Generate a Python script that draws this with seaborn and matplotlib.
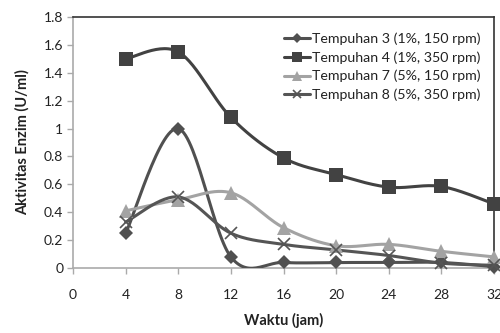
import numpy as np
import pandas as pd
import matplotlib
matplotlib.use("Agg")
import matplotlib.pyplot as plt
from matplotlib.lines import Line2D
import seaborn as sns

waktu = [4, 8, 12, 16, 20, 24, 28, 32]
t3 = [0.25, 1.00, 0.08, 0.04, 0.04, 0.04, 0.04, 0.01]
t4 = [1.50, 1.55, 1.08, 0.79, 0.67, 0.58, 0.585, 0.46]
t7 = [0.41, 0.49, 0.54, 0.29, 0.16, 0.17, 0.12, 0.08]
t8 = [0.33, 0.51, 0.25, 0.17, 0.13, 0.09, 0.035, 0.02]
labels = ["Tempuhan 3 (1%, 150 rpm)", "Tempuhan 4 (1%, 350 rpm)",
          "Tempuhan 7 (5%, 150 rpm)", "Tempuhan 8 (5%, 350 rpm)"]
xticks = [0, 4, 8, 12, 16, 20, 24, 28, 32]
yticks = [0, 0.2, 0.4, 0.6, 0.8, 1.0, 1.2, 1.4, 1.6, 1.8]
ytick_labels = ["0", "0.2", "0.4", "0.6", "0.8", "1", "1.2", "1.4", "1.6", "1.8"]

sns.set_theme(style="white")
plt.rcParams['font.family'] = ['Lato', 'DejaVu Sans']

styles = [
    dict(color="#505050", marker="D", ms=7, mew=0),
    dict(color="#424242", marker="s", ms=9.5, mew=0),
    dict(color="#a3a3a3", marker="^", ms=9.5, mew=0),
    dict(color="#555555", marker="x", ms=8, mew=1.2),
]


def smooth(x, y, n=30):
    # Excel-style smoothed line (Catmull-Rom through the data points)
    x = np.asarray(x, float); y = np.asarray(y, float)
    P = np.column_stack([x, y])
    P = np.vstack([P[0], P, P[-1]])
    out = []
    t = np.linspace(0, 1, n)
    for i in range(1, len(P) - 2):
        p0, p1, p2, p3 = P[i - 1], P[i], P[i + 1], P[i + 2]
        c1 = p1 + (p2 - p0) / 6
        c2 = p2 - (p3 - p1) / 6
        tt = t[:, None]
        seg = ((1 - tt) ** 3) * p1 + 3 * ((1 - tt) ** 2) * tt * c1 + 3 * (1 - tt) * tt ** 2 * c2 + tt ** 3 * p2
        out.append(seg if i == 1 else seg[1:])
    s = np.vstack(out)
    return s[:, 0], s[:, 1]


fig = plt.figure(figsize=(5.0, 3.33), dpi=100)
ax = fig.add_axes([0.146, 0.195, 0.842, 0.754])

handles = []
for ys, st, lab in zip([t3, t4, t7, t8], styles, labels):
    sx, sy = smooth(waktu, ys)
    df = pd.DataFrame({"x": sx, "y": sy})
    sns.lineplot(data=df, x="x", y="y", ax=ax, color=st["color"], lw=2.2,
                 sort=False, estimator=None, zorder=3)
    dfp = pd.DataFrame({"x": waktu, "y": ys})
    ax.plot(dfp["x"], dfp["y"], linestyle="none", marker=st["marker"],
            markersize=st["ms"], color=st["color"], mec=st["color"],
            mew=st["mew"], zorder=4, clip_on=False)
    handles.append(Line2D([], [], color=st["color"], lw=2.2, marker=st["marker"],
                          markersize=st["ms"] * 0.75, mew=st["mew"], mec=st["color"], label=lab))

ax.set_xlim(0, 32)
ax.set_ylim(0, 1.8)
ax.set_xticks(xticks)
ax.set_xticklabels([str(v) for v in xticks])
ax.set_yticks(yticks)
ax.set_yticklabels(ytick_labels)
ax.tick_params(axis="both", labelsize=10, colors="#aaaaaa", labelcolor="#222222",
               direction="out", length=4, width=1, bottom=True, left=True)
ax.tick_params(axis="x", pad=11)
ax.tick_params(axis="y", pad=3)

for side in ["left", "bottom"]:
    ax.spines[side].set_color("#aaaaaa")
    ax.spines[side].set_linewidth(1.2)
for side in ["top", "right"]:
    ax.spines[side].set_color("#333333")
    ax.spines[side].set_linewidth(1.2)
    ax.spines[side].set_visible(True)

ax.set_xlabel("Waktu (jam)", fontsize=10.5, fontweight="bold", labelpad=9, color="#222222")
ax.set_ylabel("Aktivitas Enzim (U/ml)", fontsize=10.5, fontweight="bold", labelpad=10, color="#222222")

leg = ax.legend(handles=handles, loc="upper right", bbox_to_anchor=(0.995, 0.985),
                frameon=False, fontsize=10.2, handlelength=1.8, handletextpad=0.15,
                labelspacing=0.45, borderaxespad=0.4)
for t in leg.get_texts():
    t.set_color("#222222")

fig.savefig("out.png", dpi=100)
